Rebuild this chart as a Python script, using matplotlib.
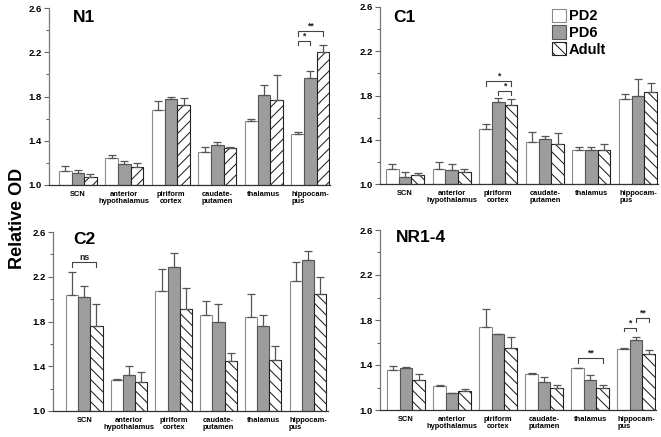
import matplotlib
matplotlib.use("Agg")
import matplotlib.pyplot as plt
import numpy as np
from matplotlib.ticker import MultipleLocator

plt.rcParams['font.family'] = ['Liberation Sans', 'DejaVu Sans']
plt.rcParams['hatch.linewidth'] = 0.75

categories = ["SCN", "anterior\nhypothalamus", "piriform\ncortex",
              "caudate-\nputamen", "thalamus", "hippocam-\npus"]
series_names = ["PD2", "PD6", "Adult"]

n1_pd2 = [1.13, 1.24, 1.68, 1.30, 1.58, 1.46]
n1_pd2_err = [0.04, 0.03, 0.08, 0.04, 0.02, 0.02]
n1_pd6 = [1.11, 1.19, 1.78, 1.36, 1.81, 1.97]
n1_pd6_err = [0.03, 0.03, 0.02, 0.03, 0.09, 0.06]
n1_adult = [1.07, 1.16, 1.72, 1.33, 1.77, 2.20]
n1_adult_err = [0.03, 0.04, 0.07, 0.01, 0.22, 0.07]

c1_pd2 = [1.14, 1.14, 1.50, 1.38, 1.31, 1.77]
c1_pd2_err = [0.04, 0.055, 0.04, 0.09, 0.02, 0.04]
c1_pd6 = [1.06, 1.13, 1.74, 1.41, 1.31, 1.80]
c1_pd6_err = [0.045, 0.05, 0.035, 0.025, 0.02, 0.145]
c1_adult = [1.08, 1.105, 1.71, 1.36, 1.31, 1.83]
c1_adult_err = [0.02, 0.03, 0.055, 0.10, 0.05, 0.085]

c2_pd2 = [2.04, 1.28, 2.07, 1.86, 1.84, 2.16]
c2_pd2_err = [0.20, 0.01, 0.20, 0.125, 0.205, 0.17]
c2_pd6 = [2.02, 1.32, 2.29, 1.80, 1.76, 2.35]
c2_pd6_err = [0.10, 0.08, 0.12, 0.16, 0.10, 0.08]
c2_adult = [1.76, 1.26, 1.91, 1.45, 1.46, 2.05]
c2_adult_err = [0.20, 0.09, 0.19, 0.07, 0.12, 0.15]

nr_pd2 = [1.36, 1.21, 1.74, 1.32, 1.37, 1.54]
nr_pd2_err = [0.03, 0.01, 0.155, 0.005, 0.0, 0.01]
nr_pd6 = [1.375, 1.15, 1.675, 1.245, 1.27, 1.62]
nr_pd6_err = [0.01, 0.005, 0.005, 0.045, 0.045, 0.025]
nr_adult = [1.27, 1.17, 1.55, 1.20, 1.20, 1.50]
nr_adult_err = [0.05, 0.02, 0.095, 0.02, 0.02, 0.03]

# significance: (category index, bar a, bar b, leg bottom, bracket top, label)
n1_sig = [(5, 0, 1, 2.27, 2.30, "*"), (5, 0, 2, 2.35, 2.39, "**")]
c1_sig = [(2, 0, 2, 1.885, 1.93, "*"), (2, 1, 2, 1.805, 1.84, "*")]
c2_sig = [(0, 0, 2, 2.29, 2.33, "ns")]
nr_sig = [(4, 0, 2, 1.42, 1.46, "**"), (5, 0, 1, 1.70, 1.73, "*"), (5, 1, 2, 1.78, 1.815, "**")]

W, H = 661, 437
fig = plt.figure(figsize=(W / 100, H / 100), dpi=100)


def axes_px(x0, x1, y0, y1):
    return fig.add_axes([x0 / W, 1 - y1 / H, (x1 - x0) / W, (y1 - y0) / H])


panels = [
    dict(title="N1", rect=(49, 330, 8, 185), xlim=(-0.62, 5.42), hatch="///",
         data=[(n1_pd2, n1_pd2_err), (n1_pd6, n1_pd6_err), (n1_adult, n1_adult_err)],
         sig=n1_sig, tpos=(0.085, 0.99)),
    dict(title="C1", rect=(380, 658, 7, 184), xlim=(-0.54, 5.43), hatch="\\\\\\",
         data=[(c1_pd2, c1_pd2_err), (c1_pd6, c1_pd6_err), (c1_adult, c1_adult_err)],
         sig=c1_sig, tpos=(0.047, 0.985)),
    dict(title="C2", rect=(53, 328, 232, 411), xlim=(-0.70, 5.45), hatch="\\\\\\",
         data=[(c2_pd2, c2_pd2_err), (c2_pd6, c2_pd6_err), (c2_adult, c2_adult_err)],
         sig=c2_sig, tpos=(0.073, 1.0)),
    dict(title="NR1-4", rect=(380, 656, 230, 410), xlim=(-0.565, 5.43), hatch="\\\\\\",
         data=[(nr_pd2, nr_pd2_err), (nr_pd6, nr_pd6_err), (nr_adult, nr_adult_err)],
         sig=nr_sig, tpos=(0.058, 1.0)),
]

bw = 0.272
offsets = [-bw, 0.0, bw]
x = np.arange(len(categories))

for p in panels:
    ax = axes_px(*p["rect"])
    styles = [
        dict(color="white", edgecolor="#8a8a8a", hatch=None),
        dict(color="#9d9d9d", edgecolor="#555555", hatch=None),
        dict(color="white", edgecolor="#222222", hatch=p["hatch"]),
    ]
    handles = []
    for (vals, errs), off, st in zip(p["data"], offsets, styles):
        vals = np.array(vals)
        errs = np.array(errs)
        b = ax.bar(x + off, vals - 1.0, bottom=1.0, width=bw, color=st["color"],
                   edgecolor=st["edgecolor"], hatch=st["hatch"], linewidth=0.8, zorder=2)
        handles.append(b)
        ax.errorbar(x + off, vals, yerr=[np.zeros_like(errs), errs], fmt="none",
                    ecolor="#555555", elinewidth=0.9, capsize=2.6, capthick=0.9, zorder=3)
    for (ci, a, bb, y0, y1, lab) in p["sig"]:
        xa = ci + offsets[a]
        xb = ci + offsets[bb]
        ax.plot([xa, xa, xb, xb], [y0, y1, y1, y0], color="#444444", lw=0.8, zorder=4)
        ax.text((xa + xb) / 2, y1 + 0.005, lab, ha="center", va="bottom",
                fontsize=6.3, fontweight="bold", color="#222222")
    ax.set_ylim(1.0, 2.6)
    ax.set_xlim(*p["xlim"])
    ax.yaxis.set_major_locator(MultipleLocator(0.4))
    ax.yaxis.set_minor_locator(MultipleLocator(0.2))
    ax.set_yticks([1.0, 1.4, 1.8, 2.2, 2.6])
    ax.set_yticklabels(["1.0", "1.4", "1.8", "2.2", "2.6"])
    ax.tick_params(axis="y", which="major", length=3.5, width=0.8, color="#666666",
                   labelsize=6.8, pad=1.5, direction="out")
    ax.tick_params(axis="y", which="minor", length=2.5, width=0.8, color="#666666")
    for lab in ax.get_yticklabels():
        lab.set_fontweight("bold")
    ax.set_xticks(x)
    ax.set_xticklabels(categories, fontsize=5.4, fontweight="bold", linespacing=1.1)
    for lab in ax.get_xticklabels():
        lab.set_multialignment("left" if lab.get_text().startswith("hippo") else "center")
    ax.tick_params(axis="x", length=0, pad=4)
    ax.spines["top"].set_visible(False)
    ax.spines["right"].set_visible(False)
    ax.spines["left"].set_color("#777777")
    ax.spines["left"].set_linewidth(0.9)
    ax.spines["bottom"].set_color("#333333")
    ax.spines["bottom"].set_linewidth(0.9)
    ax.text(p["tpos"][0], p["tpos"][1], p["title"], transform=ax.transAxes,
            ha="left", va="top", fontsize=12.5, fontweight="bold")
    if p["title"] == "C1":
        ax.legend(handles, series_names, loc="upper left", bbox_to_anchor=(0.62, 0.99),
                  frameon=False, handlelength=0.95, handleheight=1.0, handletextpad=0.2,
                  labelspacing=0.15, borderpad=0, borderaxespad=0,
                  prop=dict(size=10.5, weight="bold"))

fig.text(0.027, 0.5, "Relative OD", rotation=90, ha="center", va="center",
         fontsize=13, fontweight="bold")

fig.savefig("out.png", dpi=100)
